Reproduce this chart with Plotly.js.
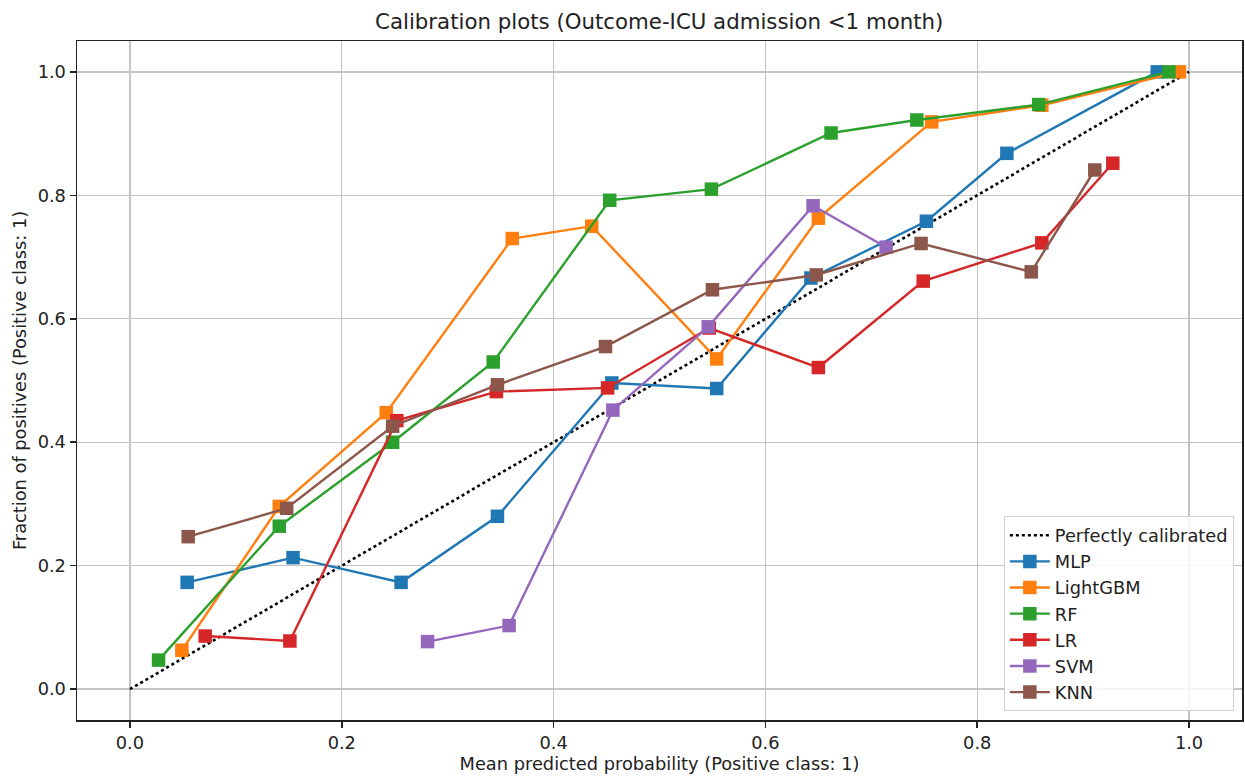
<!DOCTYPE html>
<html>
<head>
<meta charset="utf-8">
<script src="https://cdn.plot.ly/plotly-3.0.1.min.js"></script>
<style>html,body{margin:0;padding:0;background:#fff;} #chart{width:1245px;height:780px;}</style>
</head>
<body>
<div id="chart"></div>
<script>
const perfectX = [0, 1];
const perfectY = [0, 1];

const mlpX = [0.054, 0.154, 0.256, 0.347, 0.455, 0.554, 0.643, 0.752, 0.828, 0.970];
const mlpY = [0.173, 0.213, 0.173, 0.280, 0.496, 0.487, 0.666, 0.758, 0.868, 1.0];

const lgbmX = [0.049, 0.141, 0.242, 0.361, 0.436, 0.554, 0.650, 0.757, 0.861, 0.991];
const lgbmY = [0.063, 0.296, 0.448, 0.730, 0.750, 0.535, 0.763, 0.919, 0.946, 1.0];

const rfX = [0.027, 0.141, 0.248, 0.343, 0.453, 0.549, 0.662, 0.743, 0.858, 0.981];
const rfY = [0.047, 0.264, 0.400, 0.530, 0.792, 0.810, 0.901, 0.922, 0.947, 1.0];

const lrX = [0.071, 0.151, 0.252, 0.346, 0.451, 0.547, 0.650, 0.749, 0.861, 0.928];
const lrY = [0.086, 0.078, 0.435, 0.482, 0.488, 0.585, 0.521, 0.661, 0.723, 0.852];

const svmX = [0.281, 0.358, 0.456, 0.546, 0.645, 0.714];
const svmY = [0.077, 0.103, 0.452, 0.587, 0.783, 0.716];

const knnX = [0.055, 0.148, 0.248, 0.347, 0.449, 0.550, 0.648, 0.747, 0.851, 0.911];
const knnY = [0.247, 0.293, 0.426, 0.493, 0.555, 0.647, 0.671, 0.722, 0.676, 0.841];

const names = ["MLP", "LightGBM", "RF", "LR", "SVM", "KNN"];
const colors = ["#1f77b4", "#ff7f0e", "#2ca02c", "#d62728", "#9467bd", "#8c564b"];
const xs = [mlpX, lgbmX, rfX, lrX, svmX, knnX];
const ys = [mlpY, lgbmY, rfY, lrY, svmY, knnY];

const traces = [{
  x: perfectX, y: perfectY, mode: "lines", name: "Perfectly calibrated",
  line: {color: "#000", width: 2.6, dash: "dot"}
}];
for (let i = 0; i < names.length; i++) {
  traces.push({
    x: xs[i], y: ys[i], mode: "lines+markers", name: names[i],
    line: {color: colors[i], width: 2.4},
    marker: {symbol: "square", size: 13.5, color: colors[i], line: {width: 0}}
  });
}

const gridColor = "#c4c4c4";
const axisCommon = {
  range: [-0.05, 1.05],
  dtick: 0.2, tick0: 0, tickformat: ".1f",
  showgrid: true, gridcolor: gridColor, gridwidth: 1.4,
  zeroline: false,
  showline: true, mirror: true, linecolor: "#222", linewidth: 1.5,
  ticks: "outside", ticklen: 6, tickwidth: 1.5, tickcolor: "#222",
  tickfont: {size: 17.8, color: "#222"}
};

const layout = {
  width: 1245, height: 780,
  paper_bgcolor: "#fff", plot_bgcolor: "#fff",
  font: {family: "DejaVu Sans, sans-serif", color: "#222"},
  margin: {l: 77, r: 3, t: 41, b: 60},
  title: {text: "Calibration plots (Outcome-ICU admission <1 month)", font: {size: 21.3, color: "#222"}, x: 0.5295, xanchor: "center", y: 0.972, yanchor: "middle"},
  xaxis: Object.assign({}, axisCommon, {title: {text: "Mean predicted probability (Positive class: 1)", font: {size: 17.8, color: "#222"}, standoff: 2}}),
  yaxis: Object.assign({}, axisCommon, {title: {text: "Fraction of positives (Positive class: 1)", font: {size: 17.8, color: "#222"}, standoff: 6}}),
  showlegend: true,
  legend: {
    x: 0.993, y: 0.013, xanchor: "right", yanchor: "bottom",
    bgcolor: "rgba(255,255,255,0.85)", bordercolor: "#d0d0d0", borderwidth: 1,
    font: {size: 17.8, color: "#222"}, tracegroupgap: 0, itemwidth: 40
  }
};

Plotly.newPlot("chart", traces, layout, {displayModeBar: false, staticPlot: true});
</script>
</body>
</html>
